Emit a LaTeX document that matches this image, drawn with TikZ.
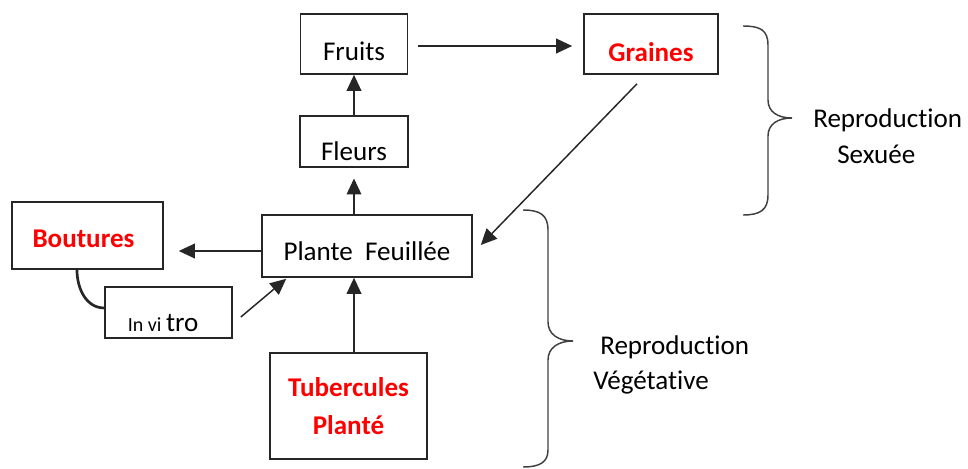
\documentclass[tikz,border=0pt]{standalone}
\usepackage{fontspec}
\setmainfont{Carlito}[Ligatures=NoCommon]
\usetikzlibrary{arrows.meta}

\begin{document}
\begin{tikzpicture}[x=0.75pt,y=-0.75pt,
  every node/.style={font=\fontsize{20.3pt}{28.5pt}\selectfont},
  box/.style={draw=black!85, line width=1.2pt, rectangle, text depth=0pt},
  redtext/.style={text=red, font=\fontsize{20.3pt}{28.5pt}\selectfont\bfseries},
  link/.style={-{Triangle[length=12pt,width=11pt]}, line width=1.1pt, black!85},
  bracepath/.style={line width=1.1pt, black!75},
  bracetext/.style={anchor=base west, inner sep=0pt}]
\useasboundingbox (0,0) rectangle (968,468);

\node[box, minimum width=80pt, minimum height=45pt, text height=24pt] (fruits) at (354,44) {Fruits};
\node[box, redtext, minimum width=100.5pt, minimum height=45pt, text height=25.5pt] (graines) at (651,44) {Graines};
\node[box, minimum width=81pt, minimum height=38.25pt, text height=27.75pt] (fleurs) at (354,141.5) {Fleurs};
\node[box, minimum width=157.5pt, minimum height=46.5pt, text height=21pt] (plante) at (367,246) {Plante\ \ Feuillée};
\node[box, redtext, minimum width=113.25pt, minimum height=50.25pt, text height=17.25pt] (boutures) at (87.5,235.5) {Boutures\hspace*{6pt}};
\node[box, minimum width=95.25pt, minimum height=38.25pt, text height=27.75pt] (invitro) at (168.5,312.5) {{\fontsize{15pt}{15pt}\selectfont In vi }tro\hspace*{8pt}};
\node[draw=black!85, line width=1.2pt, redtext, align=center, minimum width=117.75pt, minimum height=79.5pt] (tubercules) at (348.5,406) {Tubercules\\Planté};

\draw[link, shorten <=7.5pt, shorten >=8.25pt] ([yshift=-1.5pt]fruits.east) -- ([yshift=-1.5pt]graines.west);
\draw[link] (fleurs.north) -- (fruits.south);
\draw[link, shorten >=8pt] (fleurs.south |- plante.north) -- (fleurs.south);
\draw[link] (fleurs.south |- tubercules.north) -- (fleurs.south |- plante.south);
\draw[link] ([xshift=-10.5pt,yshift=-6.75pt]graines.south) -- ([xshift=6pt,yshift=0.75pt]plante.east);
\draw[link, shorten >=11.25pt] ([yshift=-3.75pt]plante.west) -- ([yshift=-3.75pt]plante.west -| boutures.east);
\draw[link] ([xshift=6pt,yshift=-3.4pt]invitro.east) -- ([xshift=18.75pt,yshift=-0.75pt]plante.south west);
\draw[line width=2pt, black!85] ([xshift=-7.9pt]boutures.south) to[out=-90,in=180] ([yshift=3.4pt]invitro.west);

% accolades
\draw[bracepath] (743,26) .. controls (760,26) and (768,30) .. (768,45) -- (768,100)
  .. controls (768,112) and (778,118) .. (792,118) .. controls (778,118) and (768,124) .. (768,136)
  -- (768,195) .. controls (768,210) and (760,215) .. (743,215);
\draw[bracepath] (523,210) .. controls (540,210) and (548,215) .. (548,230) -- (548,322)
  .. controls (548,334) and (558,341) .. (573,341) .. controls (558,341) and (548,348) .. (548,360)
  -- (548,450) .. controls (548,462) and (540,467) .. (523,467);

\node[bracetext] (sexA) at (813,127) {Reproduction};
\node[bracetext] (sexB) at (837,163) {Sexuée};
\node[bracetext] (vegA) at (600,354) {Reproduction};
\node[bracetext] (vegB) at (593,389) {Végétative};
\end{tikzpicture}
\end{document}
